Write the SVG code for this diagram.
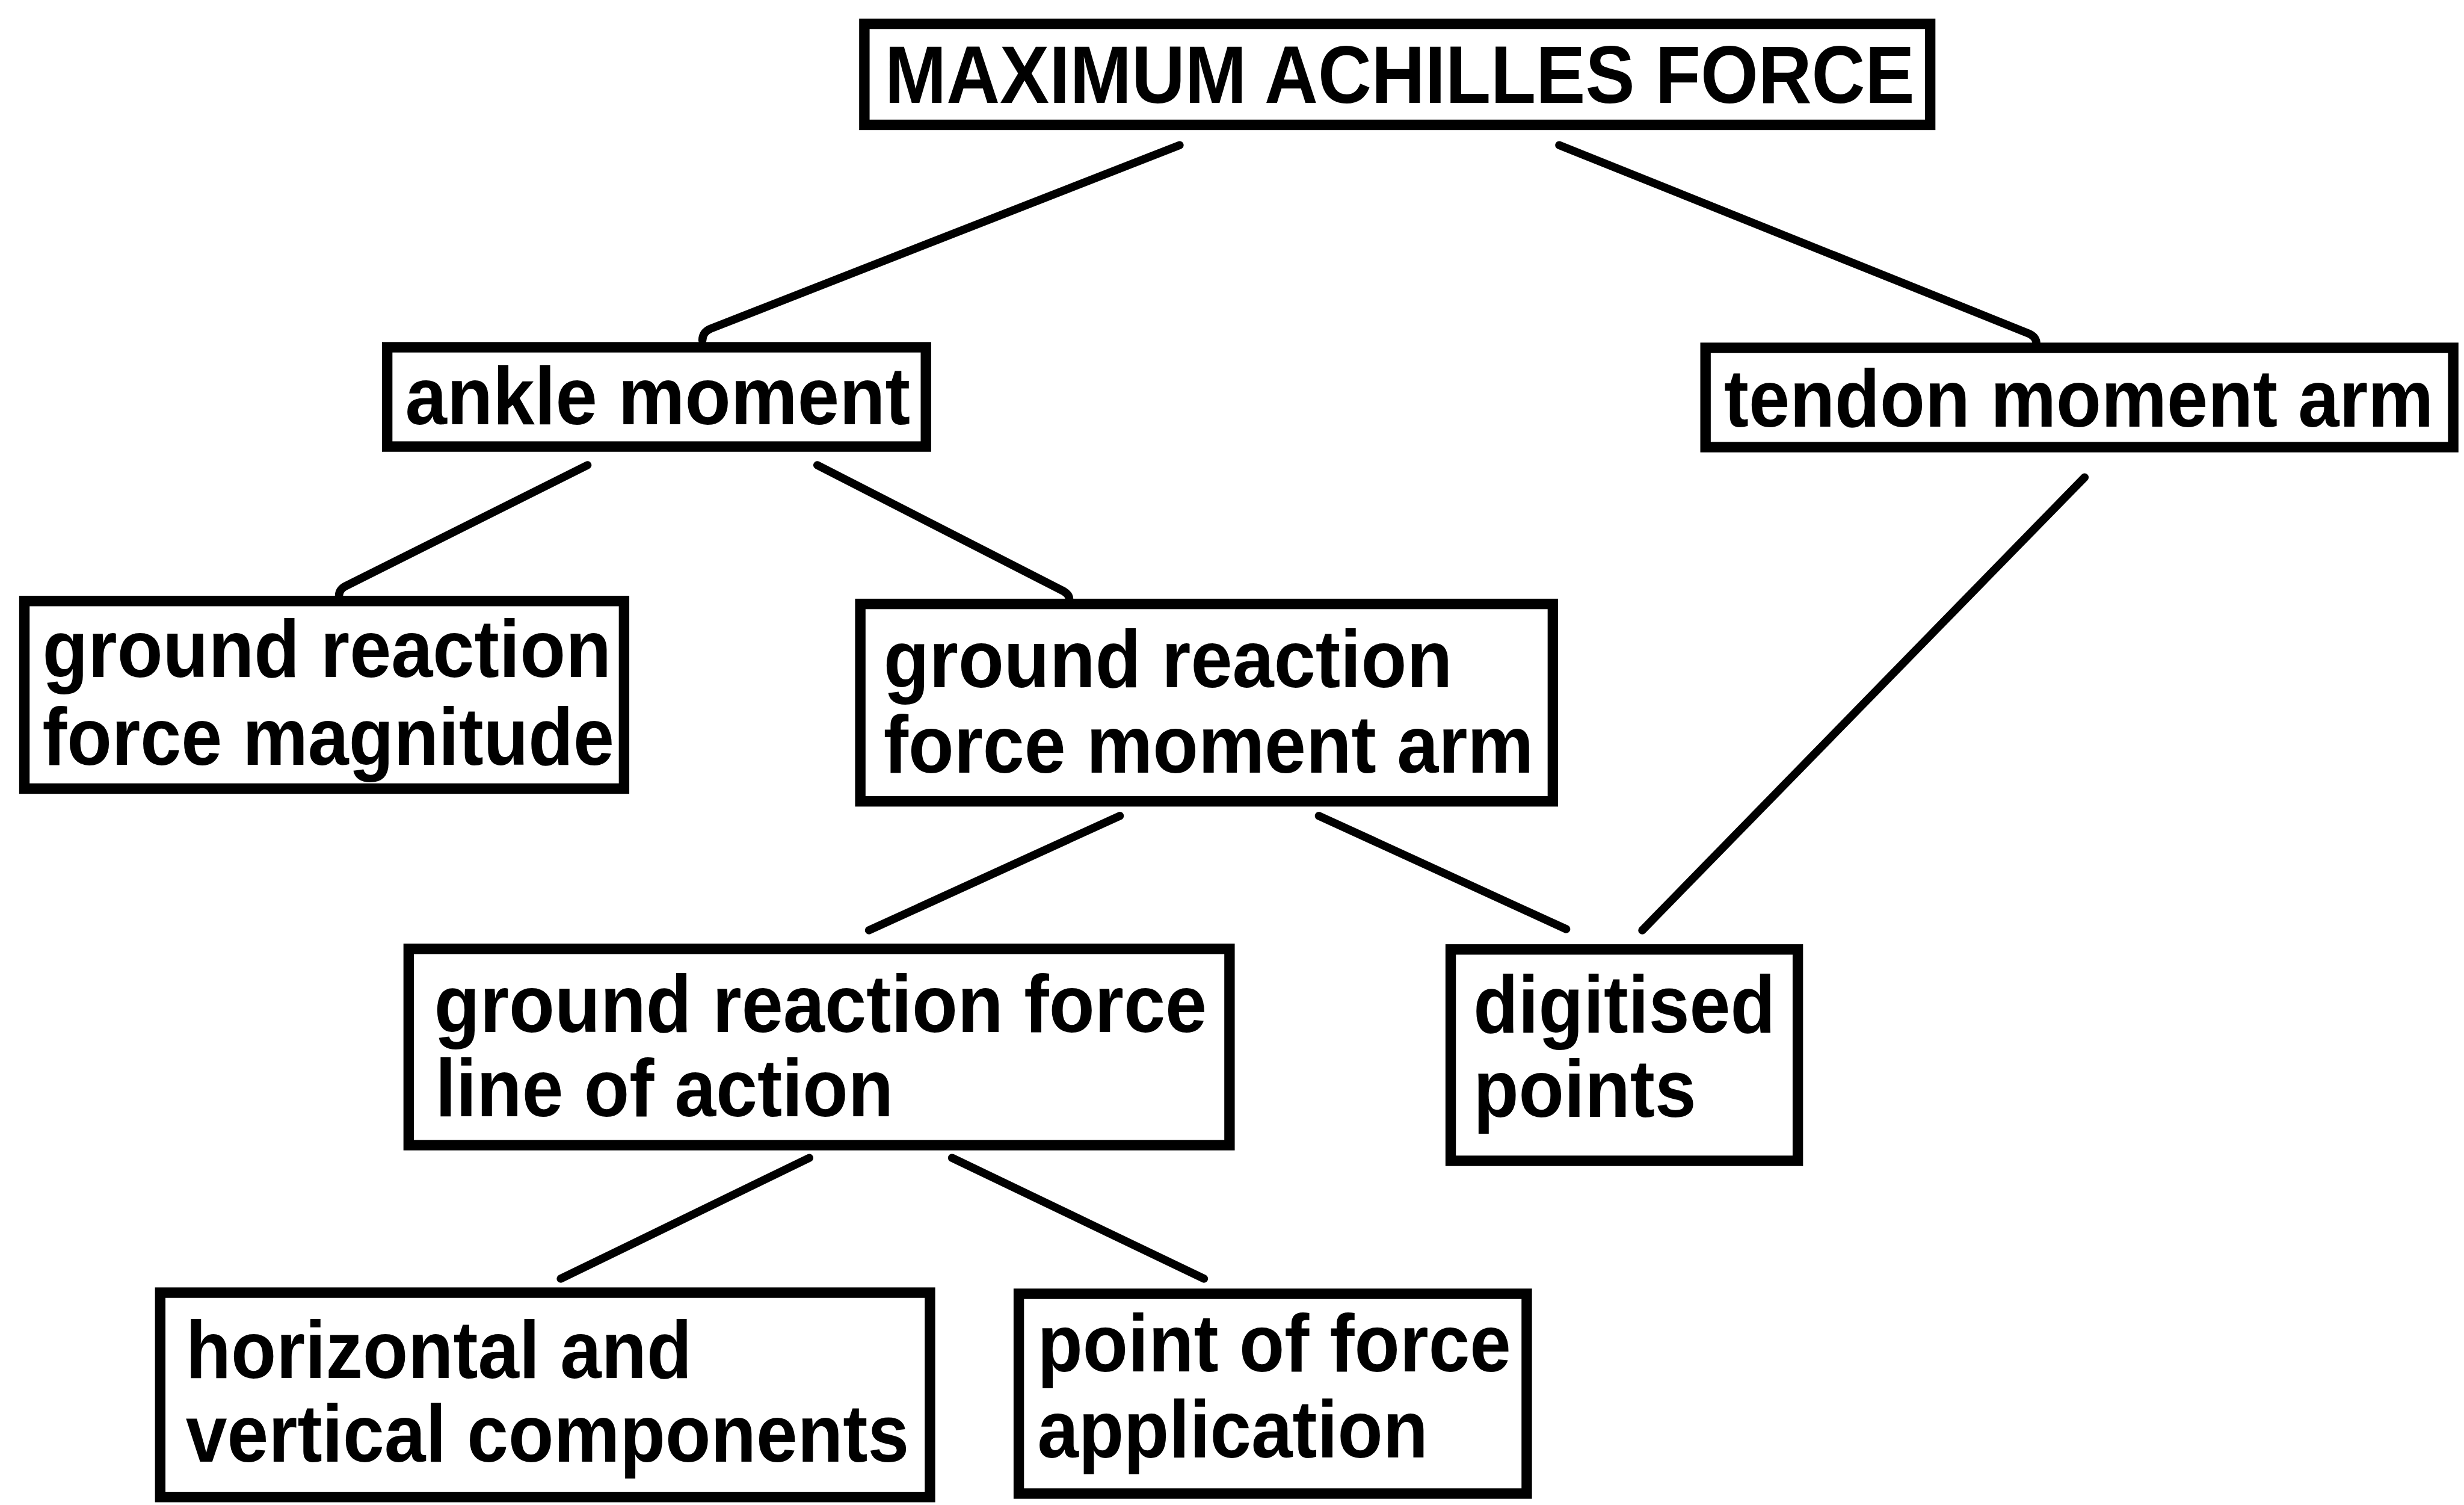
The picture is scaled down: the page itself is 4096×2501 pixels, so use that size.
<svg xmlns="http://www.w3.org/2000/svg" width="4096" height="2501" viewBox="0 0 4096 2501">
  <style>
    .box { fill: #ffffff; stroke: #000000; stroke-width: 18; }
    .lbl { font-family: "Liberation Sans", Arial, Helvetica, sans-serif; font-weight: bold; font-size: 140px; fill: #000000; }
    .link { fill: none; stroke: #000000; stroke-width: 14; stroke-linecap: round; stroke-linejoin: round; }
  </style>
  <rect x="0" y="0" width="4096" height="2501" fill="#ffffff"/>
  <g transform="scale(0.965)">
    <!-- connectors -->
    <g id="connectors">
      <path class="link" d="M2032 250 L1224 566 Q1210 572 1210 586"/>
      <path class="link" d="M2686 250 L3494 574 Q3508 580 3508 592"/>
      <path class="link" d="M1012 801 L594 1010 Q584 1016 584 1026"/>
      <path class="link" d="M1408 801 L1832 1018 Q1842 1024 1842 1032"/>
      <path class="link" d="M3591 822 L2829 1602"/>
      <path class="link" d="M1929 1405 L1497 1602"/>
      <path class="link" d="M2272 1405 L2698 1600"/>
      <path class="link" d="M1394 1994 L966 2202"/>
      <path class="link" d="M1640 1994 L2074 2202"/>
    </g>

    <!-- nodes -->
    <g id="maximum-achilles-force">
      <rect class="box" x="1489" y="41" width="1836" height="174"/>
      <text class="lbl" x="1524" y="177" textLength="1774" lengthAdjust="spacingAndGlyphs">MAXIMUM ACHILLES FORCE</text>
    </g>

    <g id="ankle-moment">
      <rect class="box" x="667" y="598" width="928" height="171"/>
      <text class="lbl" x="698" y="731" textLength="870" lengthAdjust="spacingAndGlyphs">ankle moment</text>
    </g>

    <g id="tendon-moment-arm">
      <rect class="box" x="2938" y="599" width="1288" height="171"/>
      <text class="lbl" x="2970" y="735" textLength="1222" lengthAdjust="spacingAndGlyphs">tendon moment arm</text>
    </g>

    <g id="grf-magnitude">
      <rect class="box" x="42" y="1035" width="1033" height="323"/>
      <text class="lbl" x="73" y="1166" textLength="980" lengthAdjust="spacingAndGlyphs">ground reaction</text>
      <text class="lbl" x="73" y="1317" textLength="985" lengthAdjust="spacingAndGlyphs">force magnitude</text>
    </g>

    <g id="grf-moment-arm">
      <rect class="box" x="1482" y="1040" width="1193" height="340"/>
      <text class="lbl" x="1522" y="1183" textLength="980" lengthAdjust="spacingAndGlyphs">ground reaction</text>
      <text class="lbl" x="1522" y="1331" textLength="1120" lengthAdjust="spacingAndGlyphs">force moment arm</text>
    </g>

    <g id="grf-line-of-action">
      <rect class="box" x="704" y="1634" width="1414" height="338"/>
      <text class="lbl" x="748" y="1777" textLength="1331" lengthAdjust="spacingAndGlyphs">ground reaction force</text>
      <text class="lbl" x="750" y="1922" textLength="789" lengthAdjust="spacingAndGlyphs">line of action</text>
    </g>

    <g id="digitised-points">
      <rect class="box" x="2499" y="1635" width="598" height="364"/>
      <text class="lbl" x="2538" y="1778" textLength="520" lengthAdjust="spacingAndGlyphs">digitised</text>
      <text class="lbl" x="2538" y="1923" textLength="384" lengthAdjust="spacingAndGlyphs">points</text>
    </g>

    <g id="horizontal-vertical-components">
      <rect class="box" x="276" y="2226" width="1326" height="352"/>
      <text class="lbl" x="320" y="2373" textLength="872" lengthAdjust="spacingAndGlyphs">horizontal and</text>
      <text class="lbl" x="320" y="2517" textLength="1246" lengthAdjust="spacingAndGlyphs">vertical components</text>
    </g>

    <g id="point-of-force-application">
      <rect class="box" x="1755" y="2228" width="875" height="344"/>
      <text class="lbl" x="1787" y="2362" textLength="816" lengthAdjust="spacingAndGlyphs">point of force</text>
      <text class="lbl" x="1787" y="2510" textLength="673" lengthAdjust="spacingAndGlyphs">application</text>
    </g>
  </g>
</svg>
